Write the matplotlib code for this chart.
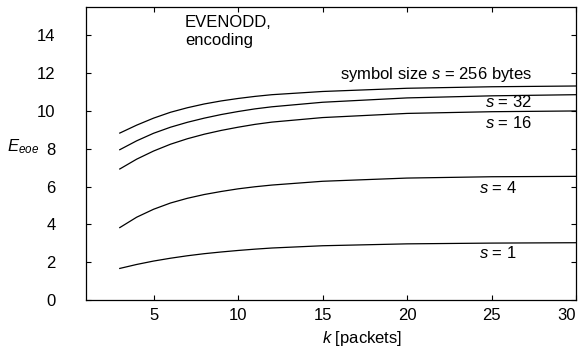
import matplotlib
matplotlib.use("Agg")
import matplotlib.pyplot as plt

plt.rcParams["font.family"] = ["Liberation Sans", "DejaVu Sans"]
plt.rcParams["mathtext.fontset"] = "custom"
plt.rcParams["mathtext.it"] = "Liberation Sans:italic"
plt.rcParams["mathtext.rm"] = "Liberation Sans"

# values
k = [3, 4, 5, 6, 7, 8, 9, 10, 11, 12, 15, 20, 25, 30]
e_256 = [8.83, 9.25, 9.62, 9.93, 10.17, 10.37, 10.53, 10.66, 10.77, 10.86, 11.03, 11.20, 11.28, 11.32]
e_32 = [7.95, 8.42, 8.82, 9.14, 9.40, 9.62, 9.81, 9.97, 10.11, 10.22, 10.46, 10.69, 10.80, 10.86]
e_16 = [6.93, 7.45, 7.88, 8.24, 8.53, 8.77, 8.97, 9.14, 9.29, 9.41, 9.65, 9.87, 9.96, 10.00]
e_4 = [3.83, 4.38, 4.80, 5.13, 5.38, 5.58, 5.74, 5.88, 5.99, 6.08, 6.28, 6.45, 6.52, 6.54]
e_1 = [1.67, 1.88, 2.06, 2.21, 2.34, 2.45, 2.54, 2.62, 2.69, 2.75, 2.87, 2.97, 3.01, 3.03]

series = [e_256, e_32, e_16, e_4, e_1]
labels = ["symbol size $s$ = 256 bytes", "$s$ = 32", "$s$ = 16", "$s$ = 4", "$s$ = 1"]
label_x = [27.4, 27.4, 27.4, 26.5, 26.5]
label_y = [11.95, 10.46, 9.35, 5.93, 2.47]

fig = plt.figure(figsize=(5.79, 3.49), dpi=100)
ax = fig.add_axes([0.1485, 0.1404, 0.8463, 0.8396])

for ys in series:
    ax.plot(k, ys, color="black", lw=0.9)

for txt, x, y in zip(labels, label_x, label_y):
    ax.text(x, y, txt, ha="right", va="center", fontsize=12)

ax.text(6.85, 15.05, "EVENODD,\nencoding", ha="left", va="top", fontsize=12,
        linespacing=1.25)

ax.set_xlim(1, 30)
ax.set_ylim(0, 15.5)
ax.set_xticks([5, 10, 15, 20, 25, 30])
ax.set_yticks([0, 2, 4, 6, 8, 10, 12, 14])
ax.tick_params(direction="in", length=3.5, width=0.8, top=True, right=True,
               labelsize=12)
ax.tick_params(axis="y", pad=22)
ax.tick_params(axis="x", pad=6)
ax.get_xticklabels()[-1].set_horizontalalignment("right")
for sp in ax.spines.values():
    sp.set_linewidth(0.9)

fig.text(362 / 579, 1 - 338 / 349, "$k$ [packets]", ha="center", va="center",
         fontsize=12)
fig.text(23 / 579, 1 - 147 / 349, r"$E_{eoe}$", ha="center", va="center",
         fontsize=12)

fig.savefig("out.png", dpi=100)
